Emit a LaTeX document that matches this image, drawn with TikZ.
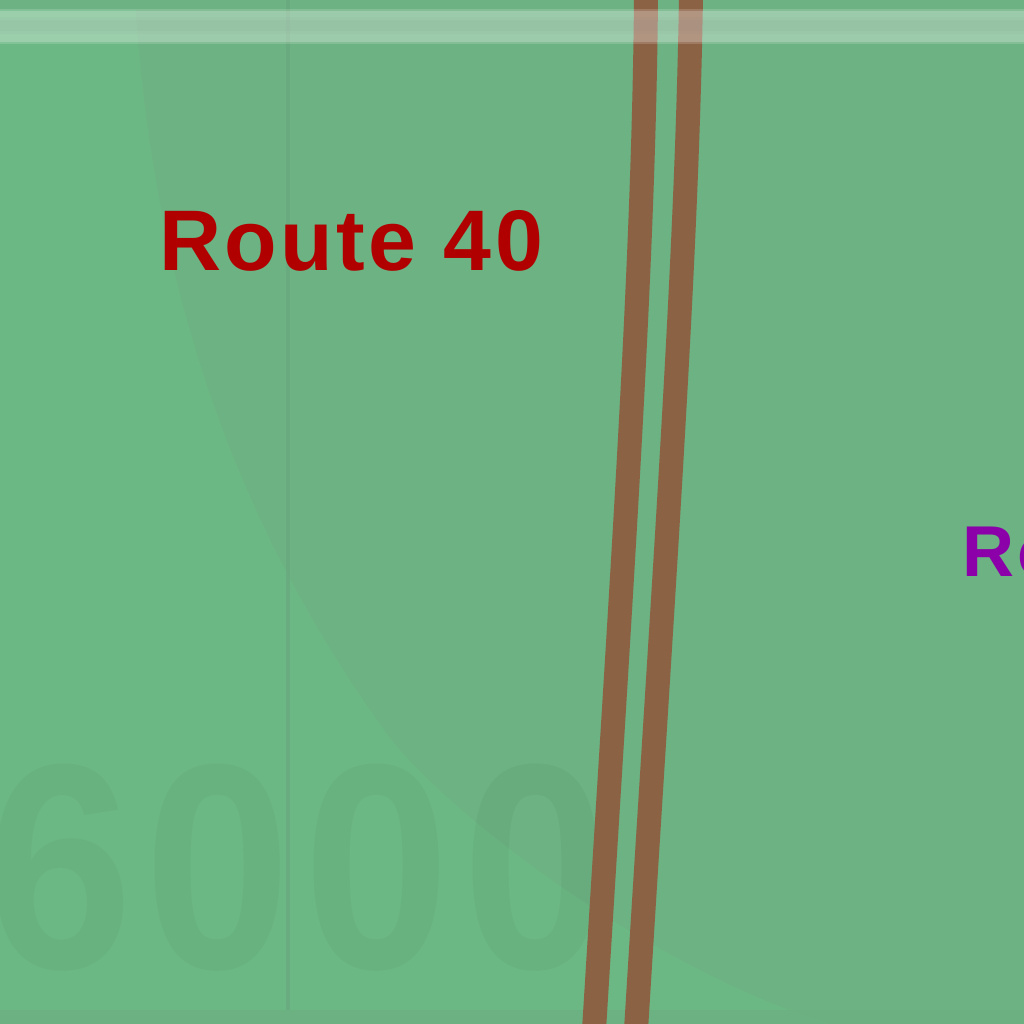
\documentclass[tikz,border=0pt]{standalone}
\usepackage{fontspec}
\setmainfont{Liberation Sans}
\definecolor{lightgrass}{HTML}{6CB885}
\definecolor{darkgrass}{HTML}{6CB282}
\definecolor{edgegrass}{HTML}{6CAF80}
\definecolor{gridgrass}{HTML}{69AA7E}
\definecolor{roadbrown}{HTML}{8C6244}
\definecolor{routered}{HTML}{B00000}
\definecolor{routepurple}{HTML}{8B00A8}
\tikzset{
  road/.style={draw=roadbrown,line width=24pt},
  routelabel/.style={inner sep=0pt,anchor=base west,font=\bfseries},
}
\begin{document}
\begin{tikzpicture}[x=1pt,y=-1pt]
\useasboundingbox (0,0) rectangle (1024,1024);
\clip (0,0) rectangle (1024,1024);
\fill[lightgrass] (0,0) rectangle (1024,1024);
% darker region right of the arc
\fill[darkgrass] (135,0) .. controls (150,220) and (200,470) .. (380,724)
  .. controls (430,800) and (640,965) .. (830,1024) -- (1024,1024) -- (1024,0) -- cycle;
% edge strips
\fill[darkgrass] (0,0) rectangle (1024,10);
\fill[edgegrass,opacity=.7] (0,1010) rectangle (1024,1024);
% watermark digits
\node[routelabel,text=black,text opacity=.03,xscale=.9,font=\bfseries\fontsize{293}{293}\selectfont\addfontfeature{LetterSpace=4.6}] (mark) at (-14,968) {6000};
% grid line
\draw[gridgrass,line width=4pt,opacity=.8] (288,0) -- (288,1010);
% roads
\draw[road] (646,-5) .. controls (644,260) and (623,560) .. (594,1030);
\draw[road] (691,-5) .. controls (687,260) and (665,560) .. (636,1030);
% translucent band with soft edges
\fill[white,opacity=.16] (0,9) rectangle (1024,44);
\fill[white,opacity=.20] (0,11) rectangle (1024,42);
\fill[gray,opacity=.05] (0,17) rectangle (1024,34);
\fill[gray,opacity=.05] (0,20) rectangle (1024,31);
% labels
\node[routelabel,text=routered,font=\bfseries\fontsize{86}{86}\selectfont\addfontfeature{LetterSpace=4}] (r40) at (159,270) {Route 40};
\node[routelabel,text=routepurple,font=\bfseries\fontsize{72}{72}\selectfont\addfontfeature{LetterSpace=4}] (r2) at (962,576) {Ro};
\end{tikzpicture}
\end{document}
